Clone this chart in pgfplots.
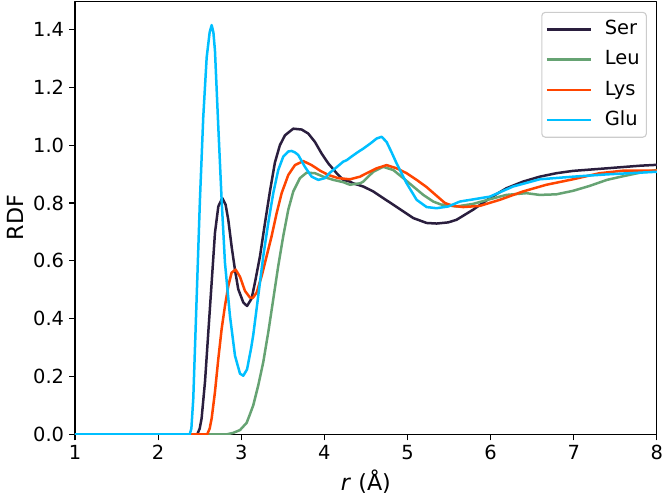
\documentclass[border=0pt]{standalone}
\usepackage{fontspec}
\setmainfont{DejaVu Sans}
\usepackage{pgfplots}
\pgfplotsset{compat=1.18}
\definecolor{cSer}{HTML}{2A1E3E}
\definecolor{cLeu}{HTML}{66A373}
\definecolor{cLys}{HTML}{FF4500}
\definecolor{cGlu}{HTML}{00BFFF}
\begin{document}
\begin{tikzpicture}
\begin{axis}[
  scale only axis,
  width=419pt, height=312pt,
  xmin=1, xmax=8, ymin=0, ymax=1.498,
  xtick={1,2,...,8},
  ytick={0,0.2,0.4,0.6,0.8,1.0,1.2,1.4},
  yticklabel style={/pgf/number format/.cd,fixed,fixed zerofill,precision=1},
  /pgf/number format/assume math mode=true,
  tick label style={font=\fontsize{14}{16}\selectfont},
  label style={font=\fontsize{16}{19}\selectfont},
  xlabel={\textit{r} (Å)},
  ylabel={RDF},
  xtick pos=bottom, ytick pos=left,
  tick align=outside,
  major tick length=4.3pt,
  every tick/.style={black, line width=0.8pt},
  axis line style={black, line width=0.8pt},
  line join=round,
  legend style={at={(1,1)}, anchor=north east, xshift=-7.2pt, yshift=-7.7pt,
    draw=black!20, line width=0.8pt, rounded corners=2.5pt,
    font=\fontsize{14}{16}\selectfont, inner xsep=2.8pt, inner ysep=3.5pt,
    row sep=4.3pt, column sep=6.8pt,
    nodes={inner sep=2pt, text height=10.5pt, text depth=3pt}},
  legend cell align=left,
  legend image code/.code={\draw[#1] (0pt,0pt) -- (32pt,0pt);},
  every axis plot/.append style={line width=1.8pt},
]
\addplot[cSer] coordinates {
(1,0) (2.47,0) (2.50,0.02) (2.523,0.055) (2.564,0.182) (2.604,0.354) (2.644,0.525)
(2.684,0.697) (2.724,0.788) (2.772,0.817) (2.812,0.794) (2.844,0.742) (2.884,0.65)
(2.924,0.57) (2.964,0.502) (3.025,0.456) (3.07,0.444) (3.125,0.47) (3.165,0.525)
(3.225,0.615) (3.285,0.73) (3.345,0.84) (3.405,0.94) (3.465,1.0) (3.526,1.034)
(3.626,1.057) (3.727,1.054) (3.807,1.040) (3.887,1.011) (3.967,0.971) (4.047,0.937)
(4.148,0.903) (4.228,0.88) (4.308,0.874) (4.348,0.868) (4.468,0.857) (4.588,0.84)
(4.708,0.817) (4.829,0.794) (4.949,0.771) (5.069,0.748) (5.23,0.731) (5.35,0.729)
(5.49,0.733) (5.59,0.742) (5.79,0.777) (5.99,0.817) (6.19,0.851) (6.39,0.874)
(6.59,0.891) (6.79,0.903) (6.99,0.911) (7.40,0.92) (7.80,0.929) (8.0,0.932)
};
\addlegendentry{Ser}
\addplot[cLeu] coordinates {
(1,0) (2.82,0) (2.9,0.005) (2.985,0.015) (3.065,0.04) (3.105,0.07) (3.145,0.101)
(3.205,0.17) (3.265,0.25) (3.325,0.353) (3.385,0.467) (3.445,0.582) (3.505,0.685)
(3.566,0.777) (3.626,0.84) (3.706,0.886) (3.787,0.905) (3.887,0.903) (3.987,0.891)
(4.107,0.88) (4.228,0.872) (4.308,0.863) (4.348,0.865) (4.428,0.868) (4.468,0.874)
(4.588,0.908) (4.708,0.925) (4.829,0.914) (4.949,0.886) (5.069,0.857) (5.19,0.828)
(5.31,0.805) (5.40,0.795) (5.59,0.788) (5.79,0.797) (5.99,0.813) (6.19,0.828)
(6.43,0.834) (6.59,0.828) (6.79,0.83) (6.99,0.842) (7.19,0.859) (7.40,0.88)
(7.60,0.893) (7.80,0.905) (8.0,0.914)
};
\addlegendentry{Leu}
\addplot[cLys] coordinates {
(1,0) (2.59,0) (2.62,0.02) (2.644,0.055) (2.684,0.147) (2.724,0.261) (2.764,0.364)
(2.804,0.444) (2.844,0.513) (2.884,0.559) (2.932,0.57) (2.985,0.545) (3.045,0.496)
(3.105,0.473) (3.14,0.472) (3.185,0.49) (3.245,0.547) (3.305,0.616) (3.365,0.685)
(3.426,0.765) (3.486,0.834) (3.566,0.897) (3.646,0.931) (3.746,0.945) (3.847,0.931)
(3.947,0.912) (4.047,0.897) (4.167,0.886) (4.308,0.882) (4.428,0.891) (4.468,0.897)
(4.629,0.92) (4.749,0.931) (4.869,0.92) (4.99,0.903) (5.11,0.88) (5.23,0.855)
(5.35,0.825) (5.45,0.80) (5.55,0.79) (5.67,0.786) (5.87,0.79) (6.11,0.811)
(6.39,0.84) (6.67,0.863) (6.99,0.882) (7.31,0.903) (7.60,0.912) (8.0,0.912)
};
\addlegendentry{Lys}
\addplot[cGlu] coordinates {
(1,0) (2.38,0) (2.40,0.02) (2.423,0.124) (2.463,0.467) (2.503,0.811) (2.543,1.097)
(2.584,1.303) (2.62,1.39) (2.644,1.415) (2.665,1.39) (2.684,1.326) (2.724,1.063)
(2.764,0.811) (2.804,0.594) (2.864,0.41) (2.925,0.272) (2.985,0.21) (3.025,0.203)
(3.07,0.225) (3.12,0.30) (3.145,0.345) (3.205,0.48) (3.265,0.616) (3.325,0.731)
(3.385,0.834) (3.445,0.914) (3.505,0.96) (3.565,0.978) (3.606,0.98) (3.646,0.975)
(3.686,0.966) (3.766,0.925) (3.847,0.891) (3.927,0.88) (4.007,0.886) (4.067,0.905)
(4.107,0.914) (4.227,0.943) (4.268,0.948) (4.348,0.965) (4.408,0.977) (4.468,0.988)
(4.55,1.005) (4.629,1.023) (4.689,1.029) (4.749,1.011) (4.809,0.975) (4.869,0.937)
(4.99,0.868) (5.11,0.811) (5.23,0.786) (5.35,0.782) (5.49,0.788) (5.63,0.805)
(5.99,0.822) (6.27,0.857) (6.59,0.882) (6.99,0.891) (7.40,0.899) (8.0,0.908)
};
\addlegendentry{Glu}
\end{axis}
\pgfresetboundingbox
\path (-54pt,-46.4pt) rectangle (423.4pt,312.8pt);
\end{tikzpicture}
\end{document}
